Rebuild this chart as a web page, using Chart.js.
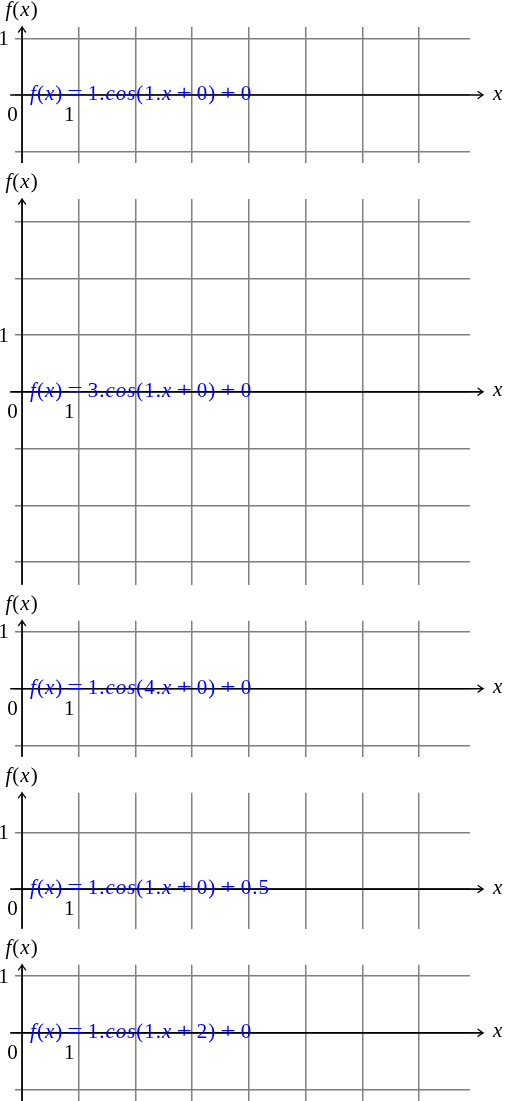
<!DOCTYPE html>
<html>
<head>
<meta charset="utf-8">
<script src="https://cdn.jsdelivr.net/npm/chart.js@4.4.1/dist/chart.umd.min.js"></script>
<style>
    html, body { margin: 0; padding: 0; background: #fff; }
    #panels { position: relative; width: 505px; height: 1101px; overflow: hidden; }
    .panel { position: absolute; left: 0; width: 505px; }
</style>
</head>
<body>
<div id="panels"></div>
<script>
// one entry per panel: f(x) = a.cos(b.x + c) + d
const amplitudes = [1, 3, 1, 1, 1];
const frequencies = [1, 1, 4, 1, 1];
const phases = [0, 0, 0, 0, 2];
const offsets = [0, 0, 0, 0.5, 0];

// visible window of each panel
const yMins = [-1.2, -3.4, -1.2, -0.7, -1.2];
const yMaxs = [1.2, 3.4, 1.2, 1.7, 1.2];
const yGridValues = [[-1, 0, 1], [-3, -2, -1, 0, 1, 2, 3], [-1, 0, 1], [0, 1], [-1, 0, 1]];
const xMin = -0.125;
const xMax = 7.9;
const xGridValues = [0, 1, 2, 3, 4, 5, 6, 7];

// axis line ends and the few labels
const xAxisStart = -0.21;
const xAxisEnd = 8.13;
const xTickValue = 1;
const yTickValue = 1;
const originLabel = '0';
const xAxisTitle = 'x';
const yAxisTitle = 'f(x)';

const UNIT = 56.7;          // px per unit, both axes
const FIRST_TOP = 27;       // top of first plot area
const GAP = 36;             // room above each plot for the f(x) title
const GRID_COLOR = '#808080';
const MATH_FONT = '"Liberation Serif", "DejaVu Serif", serif';
const MATH_SIZE = 21;

// letters in italic, digits/symbols upright (TeX math look)
function drawMath(ctx, text, x, y, color, align) {
    ctx.save();
    ctx.fillStyle = color;
    ctx.textBaseline = 'alphabetic';
    ctx.textAlign = 'left';
    const parts = [];
    let width = 0;
    for (const ch of text) {
        if (ch === ' ') {
            parts.push({ ch: null, w: 4 });
            width += 4;
            continue;
        }
        const font = (/[a-z]/.test(ch) ? 'italic ' : '') + MATH_SIZE + 'px ' + MATH_FONT;
        // TeX's = and + are wider than the Times ones
        const stretch = (ch === '=' || ch === '+') ? 1.3 : 1;
        ctx.font = font;
        const w = ctx.measureText(ch).width * stretch + 1;
        parts.push({ ch, font, w, stretch });
        width += w;
    }
    let cx = align === 'center' ? x - width / 2 : x;
    parts.forEach((p) => {
        if (p.ch) {
            ctx.save();
            ctx.font = p.font;
            ctx.translate(cx, y);
            ctx.scale(p.stretch, 1);
            ctx.fillText(p.ch, 0, 0);
            ctx.restore();
        }
        cx += p.w;
    });
    ctx.restore();
}

function drawArrowTip(ctx, x, y, angle) {
    ctx.save();
    ctx.translate(x, y);
    ctx.rotate(angle);
    ctx.lineWidth = 1.3;
    ctx.lineCap = 'round';
    ctx.beginPath();
    ctx.moveTo(-5, -3.5);
    ctx.quadraticCurveTo(-1.5, -0.8, 0, 0);
    ctx.quadraticCurveTo(-1.5, 0.8, -5, 3.5);
    ctx.stroke();
    ctx.restore();
}

// axes with arrows, tick labels and the equation text
const texAxes = {
    id: 'texAxes',
    afterDraw(chart, args, opts) {
        const ctx = chart.ctx;
        const xs = chart.scales.x;
        const ys = chart.scales.y;
        const area = chart.chartArea;
        const ox = xs.getPixelForValue(0);
        const oy = ys.getPixelForValue(0);
        const xEnd = xs.getPixelForValue(xAxisEnd);

        ctx.save();
        ctx.strokeStyle = '#000';
        ctx.lineWidth = 1.6;
        ctx.beginPath();
        ctx.moveTo(xs.getPixelForValue(xAxisStart), oy);
        ctx.lineTo(xEnd - 0.5, oy);
        ctx.stroke();
        drawArrowTip(ctx, xEnd, oy, 0);

        ctx.beginPath();
        ctx.moveTo(ox, area.bottom);
        ctx.lineTo(ox, area.top + 0.5);
        ctx.stroke();
        drawArrowTip(ctx, ox, area.top, -Math.PI / 2);
        ctx.restore();

        drawMath(ctx, xAxisTitle, xEnd + 10, oy + 4.5, '#000', 'left');
        drawMath(ctx, yAxisTitle, ox, area.top - 11, '#000', 'center');
        drawMath(ctx, originLabel, ox - 9, oy + 26, '#000', 'center');
        drawMath(ctx, String(xTickValue), xs.getPixelForValue(xTickValue) - 9, oy + 26, '#000', 'center');
        drawMath(ctx, String(yTickValue), ox - 18, ys.getPixelForValue(yTickValue) + 6.5, '#000', 'center');
        drawMath(ctx, opts.equation, ox + 8, oy + 5, '#0000ff', 'left');
    }
};

function makePanel(i, areaTop) {
    const areaH = (yMaxs[i] - yMins[i]) * UNIT;
    const top = Math.round(areaTop - GAP);
    const padTop = areaTop - top;
    const height = Math.ceil(padTop + areaH + 1);

    const div = document.createElement('div');
    div.className = 'panel';
    div.style.top = top + 'px';
    div.style.height = height + 'px';
    const canvas = document.createElement('canvas');
    div.appendChild(canvas);
    document.getElementById('panels').appendChild(div);

    const equation = 'f(x) = ' + amplitudes[i] + '.cos(' + frequencies[i] + '.x + ' + phases[i] + ') + ' + offsets[i];

    new Chart(canvas.getContext('2d'), {
        type: 'scatter',
        data: { datasets: [] },
        options: {
            responsive: true,
            maintainAspectRatio: false,
            animation: false,
            events: [],
            layout: {
                padding: { top: padTop, left: 15, right: 35, bottom: height - padTop - areaH }
            },
            plugins: {
                legend: { display: false },
                tooltip: { enabled: false },
                texAxes: { equation: equation }
            },
            scales: {
                x: {
                    type: 'linear',
                    min: xMin,
                    max: xMax,
                    afterBuildTicks: (s) => { s.ticks = xGridValues.map((v) => ({ value: v })); },
                    ticks: { display: false },
                    border: { display: false },
                    grid: { color: GRID_COLOR, lineWidth: 1.5, drawTicks: false }
                },
                y: {
                    type: 'linear',
                    min: yMins[i],
                    max: yMaxs[i],
                    afterBuildTicks: (s) => { s.ticks = yGridValues[i].map((v) => ({ value: v })); },
                    ticks: { display: false },
                    border: { display: false },
                    grid: { color: GRID_COLOR, lineWidth: 1.5, drawTicks: false }
                }
            }
        },
        plugins: [texAxes]
    });

    return areaTop + areaH + GAP;
}

let nextTop = FIRST_TOP;
for (let i = 0; i < amplitudes.length; i++) {
    nextTop = makePanel(i, nextTop);
}
</script>
</body>
</html>
